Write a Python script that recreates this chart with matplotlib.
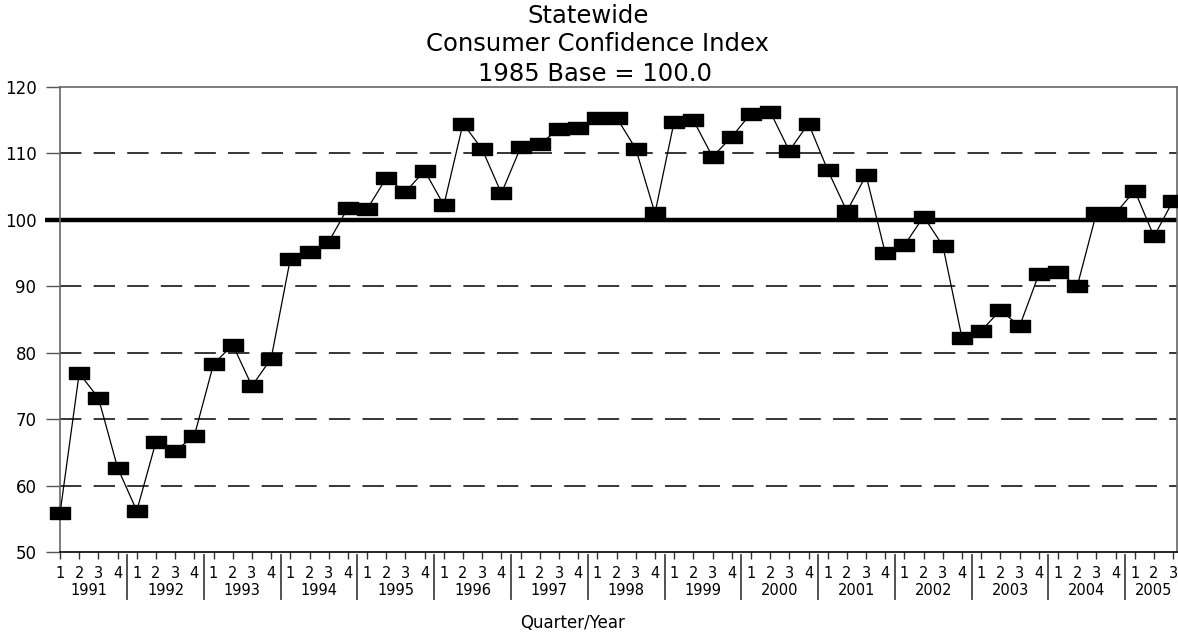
import matplotlib
matplotlib.use('Agg')
import matplotlib.pyplot as plt
import numpy as np

plt.rcParams['font.family'] = ['DejaVu Sans']

# Data: consumer confidence index by quarter, 1991 Q1 - 2005 Q3
years = [1991, 1992, 1993, 1994, 1995, 1996, 1997, 1998,
         1999, 2000, 2001, 2002, 2003, 2004, 2005]
quarters = ['1', '2', '3', '4']
index_values = [
    55.8, 76.9, 73.2, 62.7,     # 1991
    56.2, 66.6, 65.2, 67.5,     # 1992
    78.3, 81.2, 75.0, 79.1,     # 1993
    94.1, 95.1, 96.7, 101.8,    # 1994
    101.6, 106.3, 104.2, 107.4, # 1995
    102.2, 114.5, 110.6, 104.0, # 1996
    110.9, 111.4, 113.7, 113.9, # 1997
    115.4, 115.4, 110.7, 101.0, # 1998
    114.8, 115.0, 109.5, 112.5, # 1999
    116.0, 116.3, 110.4, 114.5, # 2000
    107.5, 101.3, 106.7, 95.0,  # 2001
    96.2, 100.5, 96.1, 82.2,    # 2002
    83.3, 86.4, 84.0, 91.8,     # 2003
    92.2, 90.0, 101.0, 101.0,   # 2004
    104.4, 97.5, 102.9,         # 2005
]
base_value = 100.0
y_ticks = [50, 60, 70, 80, 90, 100, 110, 120]

n = len(index_values)
x = np.arange(n)
q_labels = [quarters[i % 4] for i in range(n)]

fig = plt.figure(figsize=(11.78, 6.34), dpi=100)
ax = fig.add_axes([60 / 1178, 1 - 552 / 634, 1117 / 1178, 465 / 634])

# grid lines
for v in y_ticks[1:-1]:
    if v == base_value:
        continue
    ax.axhline(v, color='black', lw=1.1, dashes=(14, 8), zorder=1)
ax.plot([-0.8, 58.2], [base_value, base_value], color='black', lw=3.2,
        clip_on=False, zorder=2, solid_capstyle='butt')

# rectangular marker (wider than tall)
rect = [(-1.5, -1.0), (1.5, -1.0), (1.5, 1.0), (-1.5, 1.0), (-1.5, -1.0)]
ax.plot(x, index_values, color='black', lw=0.9, marker=rect, ms=14,
        mfc='black', mec='black', clip_on=False, zorder=3)

ax.set_xlim(0, 58.2)
ax.set_ylim(50, 120)
ax.set_yticks(y_ticks)
ax.set_yticklabels([str(v) for v in y_ticks], fontsize=12)
ax.tick_params(axis='y', length=10, width=1, color='#555555', pad=7)

ax.set_xticks(x)
ax.set_xticklabels(q_labels, fontsize=10.5)
ax.tick_params(axis='x', length=5, width=1, color='#333333', pad=5)

for side in ['left', 'top', 'right']:
    ax.spines[side].set_color('#666666')
    ax.spines[side].set_linewidth(1.2)
ax.spines['bottom'].set_color('black')
ax.spines['bottom'].set_linewidth(1.2)

# year labels and separators
trans = ax.get_xaxis_transform()
for i, yr in enumerate(years):
    start = i * 4
    end = min(start + 3, n - 1)
    ax.text((start + end) / 2, -0.083, str(yr), transform=trans,
            ha='center', va='center', fontsize=10.5)
    if i > 0:
        sep = start - 0.5
        ax.plot([sep, sep], [-0.007, -0.1], transform=trans, color='#444444',
                lw=1.3, clip_on=False)

fig.text(573 / 1178, 1 - 623 / 634, 'Quarter/Year', ha='center', va='center',
         fontsize=12)

fig.text(588 / 1178, 1 - 16 / 634, 'Statewide', ha='center', va='center', fontsize=17.5)
fig.text(598 / 1178, 1 - 44 / 634, 'Consumer Confidence Index', ha='center',
         va='center', fontsize=17.5)
fig.text(595 / 1178, 1 - 74 / 634, '1985 Base = 100.0', ha='center', va='center',
         fontsize=17.5)

fig.savefig('out.png', dpi=100)
